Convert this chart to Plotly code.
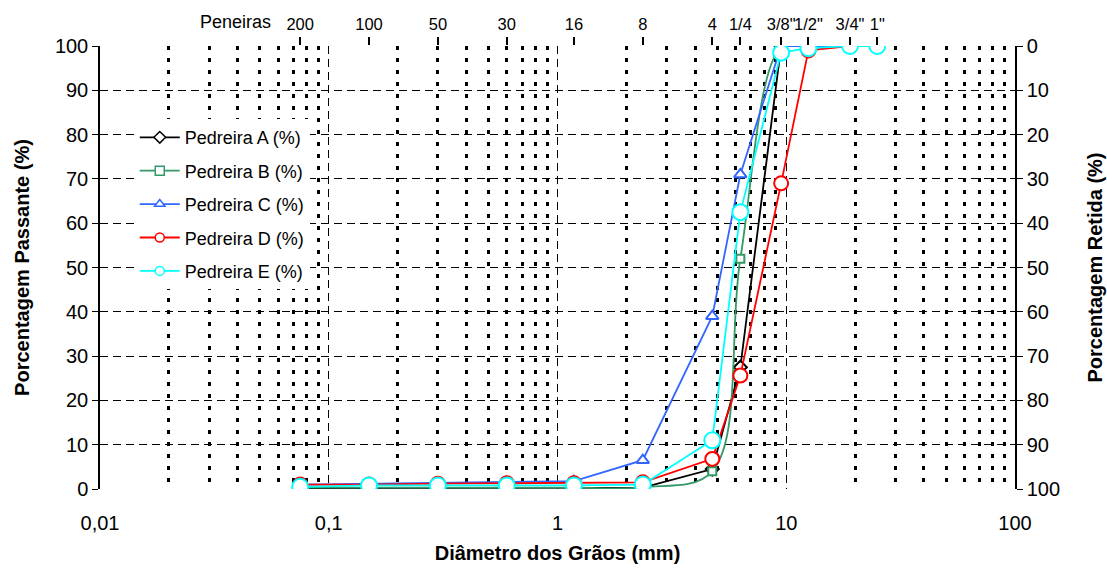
import plotly.graph_objects as go

# Sieve openings (mm) and labels
sieve_mm = [0.075, 0.15, 0.3, 0.6, 1.18, 2.36, 4.75, 6.3, 9.5, 12.5, 19, 25]
sieve_labels = ["200", "100", "50", "30", "16", "8", "4", "1/4", "3/8\"", "1/2\"", "3/4\"", "1\""]

pedreira_a = [0.2, 0.2, 0.2, 0.2, 0.2, 0.3, 4.5, 27.5, 100, 100, 100, 100]
pedreira_b = [0.3, 0.3, 0.3, 0.3, 0.3, 0.4, 4.0, 52, 99.8, 100, 100, 100]
pedreira_c = [1.0, 1.2, 1.4, 1.6, 1.8, 6.5, 39, 71, 100, 100, 100, 100]
pedreira_d = [1.0, 1.0, 1.2, 1.3, 1.3, 1.5, 6.8, 25.6, 69, 99, 100, 100]
pedreira_e = [0.5, 0.8, 0.8, 0.8, 0.8, 1.0, 11, 62.5, 98.5, 99.5, 100, 100]

names = ["Pedreira A (%)", "Pedreira B (%)", "Pedreira C (%)", "Pedreira D (%)", "Pedreira E (%)"]
series = [pedreira_a, pedreira_b, pedreira_c, pedreira_d, pedreira_e]
colors = ["#000000", "#339966", "#3366FF", "#FF0000", "#00FFFF"]
symbols = ["diamond", "square", "triangle-up", "circle", "circle"]
sizes = [10, 8, 11, 14, 16]
shapes = ["linear", "spline", "linear", "linear", "linear"]

FONT = "Liberation Sans, Arial, sans-serif"
fig = go.Figure()

for n, s, c, sym, sz, sh in zip(names, series, colors, symbols, sizes, shapes):
    fig.add_trace(go.Scatter(
        x=sieve_mm, y=s, mode="lines+markers", name=n, showlegend=False,
        line=dict(color=c, width=1.8, shape=sh),
        marker=dict(symbol=sym, size=sz, color="white", line=dict(color=c, width=2)),
    ))

# legend-only entries with small markers
for i, (n, c, sym) in enumerate(zip(names, colors, symbols)):
    fig.add_trace(go.Scatter(
        x=[None], y=[None], mode="lines+markers", name=n, legendgroup=str(i),
        line=dict(color=c, width=1.8),
        marker=dict(symbol=sym, size=9, color="white", line=dict(color=c, width=1.5)),
    ))

# helper traces for the secondary axes
fig.add_trace(go.Scatter(x=sieve_mm, y=[None] * len(sieve_mm), xaxis="x2", yaxis="y",
                         showlegend=False, hoverinfo="skip", mode="lines"))
fig.add_trace(go.Scatter(x=sieve_mm, y=[None] * len(sieve_mm), xaxis="x", yaxis="y2",
                         showlegend=False, hoverinfo="skip", mode="lines"))

fig.update_layout(
    width=1107, height=574,
    margin=dict(l=100, r=92, t=46, b=85),
    paper_bgcolor="white", plot_bgcolor="white",
    separators=",.",
    font=dict(family=FONT, size=20, color="black"),
    xaxis=dict(
        type="log", range=[-2, 2], tickmode="linear", tick0=0, dtick=1,
        showgrid=True, gridcolor="black", gridwidth=1, griddash="8px,5px",
        minor=dict(dtick="D1", showgrid=True, gridcolor="black", gridwidth=3, griddash="4px,8px", ticks=""),
        showline=False, ticks="", zeroline=False, automargin=False,
        tickfont=dict(size=20), ticklabelstandoff=20,
        title=dict(text="<b>Diâmetro dos Grãos (mm)</b>", font=dict(size=20), standoff=12),
    ),
    xaxis2=dict(
        type="log", range=[-2, 2], overlaying="x", side="top", automargin=False,
        tickmode="array", tickvals=sieve_mm, ticktext=sieve_labels, tickangle=0,
        ticks="outside", ticklen=8, tickwidth=1.5, tickcolor="black", layer="above traces",
        showgrid=False, showline=False, zeroline=False,
        tickfont=dict(size=16.5),
    ),
    yaxis=dict(
        range=[0, 100], dtick=10, showgrid=True, gridcolor="black", gridwidth=1, griddash="8px,5px",
        showline=True, linecolor="black", linewidth=1.5, ticks="outside", ticklen=6, tickcolor="black",
        zeroline=False, tickfont=dict(size=20), automargin=False,
        title=dict(text="<b>Porcentagem Passante (%)</b>", font=dict(size=20), standoff=20),
    ),
    yaxis2=dict(
        range=[100, 0], dtick=10, overlaying="y", side="right", automargin=False,
        showgrid=False, showline=True, linecolor="black", linewidth=1.5,
        ticks="outside", ticklen=6, tickcolor="black", zeroline=False, tickfont=dict(size=20),
        title=dict(text="<b>Porcentagem Retida (%)</b>", font=dict(size=20), standoff=29),
    ),
    legend=dict(
        x=0.038, y=0.835, xanchor="left", yanchor="top", bgcolor="white",
        font=dict(size=18), tracegroupgap=7, itemwidth=40,
    ),
    annotations=[dict(text="Peneiras", xref="paper", yref="paper", x=0.148, y=1.054,
                      showarrow=False, font=dict(size=18), xanchor="center", yanchor="middle")],
)

fig.write_html("out.html")
